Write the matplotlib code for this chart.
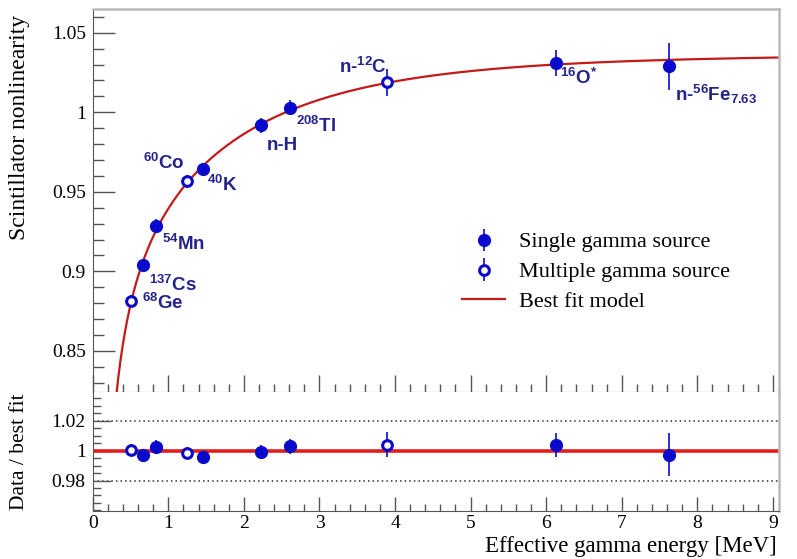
import matplotlib
matplotlib.use("Agg")
import matplotlib.pyplot as plt
from matplotlib.ticker import MultipleLocator, FixedLocator, FuncFormatter
import numpy as np

# Calibration sources: effective gamma energy [MeV]
energy = [0.511, 0.662, 0.835, 1.253, 1.461, 2.223, 2.614, 3.90, 6.13, 7.63]
nonlin = [0.8814, 0.9041, 0.9285, 0.9565, 0.9643, 0.9917, 1.0030, 1.0190, 1.0309, 1.0288]
nonlin_err = [0.004, 0.004, 0.0045, 0.004, 0.004, 0.0045, 0.005, 0.0085, 0.008, 0.0145]
ratio = [1.0004, 0.9973, 1.0027, 0.9986, 0.9960, 0.9992, 1.0030, 1.0040, 1.0040, 0.9973]
ratio_err = [0.004, 0.004, 0.0045, 0.004, 0.004, 0.0045, 0.005, 0.0085, 0.008, 0.0145]
multi = [True, False, False, True, False, False, False, True, False, False]
labels = [r'$^{68}$Ge', r'$^{137}$Cs', r'$^{54}$Mn', r'$^{60}$Co', r'$^{40}$K',
          'n-H', r'$^{208}$Tl', r'n-$^{12}$C', r'$^{16}$O$^{*}$', r'n-$^{56}$Fe$_{7.63}$']
# label offsets in points from the marker
label_off = [(8, -1.5), (4.3, -14.4), (4.3, -13), (-31.7, 13.7), (2.9, -11.5),
             (4.3, -14.4), (4.3, -13), (-34.6, 10.8), (2.9, -10.8), (4.3, -20)]

BLUE = '#0a0acc'
NAVY = '#23238a'
RED = '#c41a1a'
SERIF = 'Liberation Serif'

plt.rcParams['mathtext.fontset'] = 'custom'
plt.rcParams['mathtext.rm'] = 'Liberation Sans:bold'
plt.rcParams['mathtext.it'] = 'Liberation Sans:bold'
plt.rcParams['mathtext.bf'] = 'Liberation Sans:bold'

e = np.array(energy)
y = np.array(nonlin)
w = 1.0 / np.array(nonlin_err)


def fit_model(e, y, w):
    # a + b*exp(-c*E) + d/(E+s), grid over c and s, linear least squares for the rest
    best = None
    for c in np.linspace(0.2, 3.0, 57):
        for s in np.linspace(0.0, 1.5, 31):
            A = np.column_stack([np.ones_like(e), np.exp(-c * e), 1.0 / (e + s)])
            coef, *_ = np.linalg.lstsq(A * w[:, None], y * w, rcond=None)
            chi2 = np.sum(((A @ coef - y) * w) ** 2)
            if best is None or chi2 < best[0]:
                best = (chi2, c, s, coef)
    _, c, s, coef = best
    return lambda x: coef[0] + coef[1] * np.exp(-c * x) + coef[2] / (x + s)


model = fit_model(e, y, w)

fig = plt.figure(figsize=(7.97, 5.59), dpi=100)
ax = fig.add_axes([0.1163, 0.2987, 0.8611, 0.6852])
axr = fig.add_axes([0.1163, 0.0864, 0.8611, 0.2123])

xs = np.linspace(0.25, 9.08, 600)
fit_line, = ax.plot(xs, model(xs), color=RED, lw=1.6, zorder=2,
                    label='Best fit model')

sel_s = ~np.array(multi)
sel_m = np.array(multi)
handles = []
for a, vals, errs in [(ax, np.array(nonlin), np.array(nonlin_err)),
                      (axr, np.array(ratio), np.array(ratio_err))]:
    h1 = a.errorbar(e[sel_s], vals[sel_s], yerr=errs[sel_s], fmt='o', color=BLUE,
                    ms=8.5, elinewidth=1.2, capsize=0, zorder=4,
                    label='Single gamma source')
    h2 = a.errorbar(e[sel_m], vals[sel_m], yerr=errs[sel_m], fmt='o', color=BLUE,
                    mfc='white', mec=BLUE, mew=2.2, ms=7, elinewidth=1.2,
                    capsize=0, zorder=4, label='Multiple gamma source')
    if a is ax:
        handles = [h1, h2]
handles.append(fit_line)

for xi, yi, lab, off in zip(energy, nonlin, labels, label_off):
    ax.annotate(lab, (xi, yi), xytext=off, textcoords='offset points',
                ha='left', va='center', fontsize=13.5, color=NAVY,
                family='Liberation Sans', fontweight='bold')

# ratio panel
axr.axhline(1.0, color='#e01e1e', lw=2.6, xmin=0, xmax=9.05 / 9.08, zorder=2)
for lvl in (0.98, 1.02):
    axr.axhline(lvl, color='#333333', lw=1.1, ls=(0, (1, 2)), zorder=1)

ax.set_xlim(0, 9.08)
ax.set_ylim(0.8242, 1.0649)
axr.set_xlim(0, 9.08)
axr.set_ylim(0.9598, 1.0393)

fmt = FuncFormatter(lambda v, p: '%g' % round(v, 4))
ax.yaxis.set_major_locator(MultipleLocator(0.05))
ax.yaxis.set_minor_locator(MultipleLocator(0.01))
ax.yaxis.set_major_formatter(fmt)
axr.yaxis.set_major_locator(FixedLocator([0.98, 1.0, 1.02]))
axr.yaxis.set_minor_locator(FixedLocator(np.arange(0.96, 1.0401, 0.005)))
axr.yaxis.set_major_formatter(fmt)
for a in (ax, axr):
    a.xaxis.set_major_locator(MultipleLocator(1))
    a.xaxis.set_minor_locator(MultipleLocator(0.2))
    a.tick_params(which='both', direction='in', top=False, right=False,
                  color='#555555', width=1.0, labelsize=14, pad=5)
    for t in a.get_xticklabels() + a.get_yticklabels():
        t.set_family(SERIF)
    a.spines['left'].set_color('#555555')
    a.spines['bottom'].set_color('#555555')
    a.spines['right'].set_color('#bbbbbb')
    a.spines['right'].set_linewidth(1.8)

ax.spines['top'].set_color('#bbbbbb')
ax.spines['top'].set_linewidth(1.8)
axr.spines['top'].set_visible(False)

ax.yaxis.set_tick_params(which='major', length=16)
ax.yaxis.set_tick_params(which='minor', length=8)
ax.xaxis.set_tick_params(which='major', length=12, labelbottom=False)
ax.xaxis.set_tick_params(which='minor', length=6)
axr.yaxis.set_tick_params(which='major', length=13)
axr.yaxis.set_tick_params(which='minor', length=6)
axr.xaxis.set_tick_params(which='major', length=10, pad=3)
axr.xaxis.set_tick_params(which='minor', length=5)

ax.set_ylabel('Scintillator nonlinearity', fontsize=17, family=SERIF, va='center')
ax.yaxis.set_label_coords(-0.106, 0.6906)
axr.set_ylabel('Data / best fit', fontsize=15.5, family=SERIF, va='center')
axr.yaxis.set_label_coords(-0.106, 0.5)
axr.set_xlabel('Effective gamma energy [MeV]', fontsize=16.5, family=SERIF,
               ha='right', va='center')
axr.xaxis.set_label_coords(0.997, -0.30)

ax.legend(handles=handles, loc='center left',
          bbox_to_anchor=(462 / 797, 1 - 272 / 559),
          bbox_transform=fig.transFigure, frameon=False, borderpad=0,
          borderaxespad=0, handlelength=1.95, handletextpad=0.6,
          labelspacing=0.42, prop={'family': SERIF, 'size': 16})

fig.savefig('out.png', dpi=100, facecolor='white')
